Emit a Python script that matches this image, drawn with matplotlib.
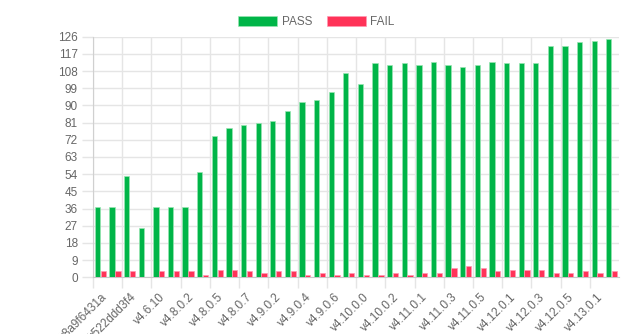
import matplotlib
matplotlib.use("Agg")
import matplotlib.pyplot as plt
import numpy as np

plt.rcParams["font.family"] = ["Liberation Sans", "DejaVu Sans"]

# ── Data ──────────────────────────────────────────────────────────────
versions = [
    "c8a9f6431a", "2f1e7a9c04", "b522ddd3f4", "v4.6.9",
    "v4.6.10", "v4.8.0.1", "v4.8.0.2", "v4.8.0.4",
    "v4.8.0.5", "v4.8.0.6", "v4.8.0.7", "v4.9.0.1",
    "v4.9.0.2", "v4.9.0.3", "v4.9.0.4", "v4.9.0.5",
    "v4.9.0.6", "v4.9.0.7", "v4.10.0.0", "v4.10.0.1",
    "v4.10.0.2", "v4.11.0.0", "v4.11.0.1", "v4.11.0.2",
    "v4.11.0.3", "v4.11.0.4", "v4.11.0.5", "v4.12.0.0",
    "v4.12.0.1", "v4.12.0.2", "v4.12.0.3", "v4.12.0.4",
    "v4.12.0.5", "v4.13.0.0", "v4.13.0.1", "v4.13.0.2",
]
passed = [37, 37, 53, 26, 37, 37, 37, 55, 74, 78, 80, 81,
          82, 87, 92, 93, 97, 107, 101, 112, 111, 112, 111, 113,
          111, 110, 111, 113, 112, 112, 112, 121, 121, 123, 124, 125]
failed = [3, 3, 3, 0, 3, 3, 3, 1, 4, 4, 3, 2,
          3, 3, 1, 2, 1, 2, 1, 1, 2, 1, 2, 2,
          5, 6, 5, 3, 4, 4, 4, 2, 2, 3, 2, 3]
y_ticks = list(range(0, 127, 9))

PASS_COLOR = "#00b548"
FAIL_COLOR = "#ff3358"
GRID_COLOR = "#e5e5e5"
TEXT_COLOR = "#666666"

# ── Figure ────────────────────────────────────────────────────────────
fig = plt.figure(figsize=(6.33, 3.34), dpi=100)
ax = fig.add_axes([0.147, 0.170, 0.831, 0.720])

n = len(versions)
x = np.arange(n)
bar_w = 0.8 / 2 * 0.9
off = 0.8 / 4

ax.bar(x - off, passed, width=bar_w, color=PASS_COLOR,
       edgecolor=(0.6, 0.9, 0.7, 0.8), linewidth=0.6, label="PASS", zorder=3)
ax.bar(x + off, failed, width=bar_w, color=FAIL_COLOR,
       edgecolor=(1.0, 0.6, 0.7, 0.8), linewidth=0.6, label="FAIL", zorder=3)

ax.set_xlim(-0.5, n - 0.5)
ax.set_ylim(0, 126)

# y axis: ticks every 9, gridlines across
ax.set_yticks(y_ticks)
ax.tick_params(axis="y", length=8, width=1, color=GRID_COLOR, pad=3,
               labelsize=8.5, labelcolor=TEXT_COLOR)
ax.grid(True, axis="y", color=GRID_COLOR, linewidth=1, zorder=0)

# x axis: labels on every other category, grid at category boundaries
shown = x[::2]
ax.set_xticks(shown)
ax.set_xticklabels([versions[i] for i in shown], rotation=45, ha="right",
                   rotation_mode="anchor", fontsize=8.5, color=TEXT_COLOR)
ax.tick_params(axis="x", which="major", length=0, pad=10)
ax.set_xticks(shown - 0.5, minor=True)
ax.tick_params(axis="x", which="minor", length=8, width=1, color=GRID_COLOR)
ax.grid(True, axis="x", which="minor", color=GRID_COLOR, linewidth=1, zorder=0)

for side in ["top", "right"]:
    ax.spines[side].set_visible(False)
ax.spines["left"].set_color("#d0d0d0")
ax.spines["bottom"].set_color("#c8c8c8")

# ── Legend ────────────────────────────────────────────────────────────
leg = fig.legend(loc="upper center", bbox_to_anchor=(0.5, 0.985), ncol=2,
                 frameon=False, fontsize=8.5, handlelength=3.3,
                 handleheight=1.0, handletextpad=0.4, columnspacing=1.2)
for t in leg.get_texts():
    t.set_color(TEXT_COLOR)

fig.savefig("out.png", dpi=100)
